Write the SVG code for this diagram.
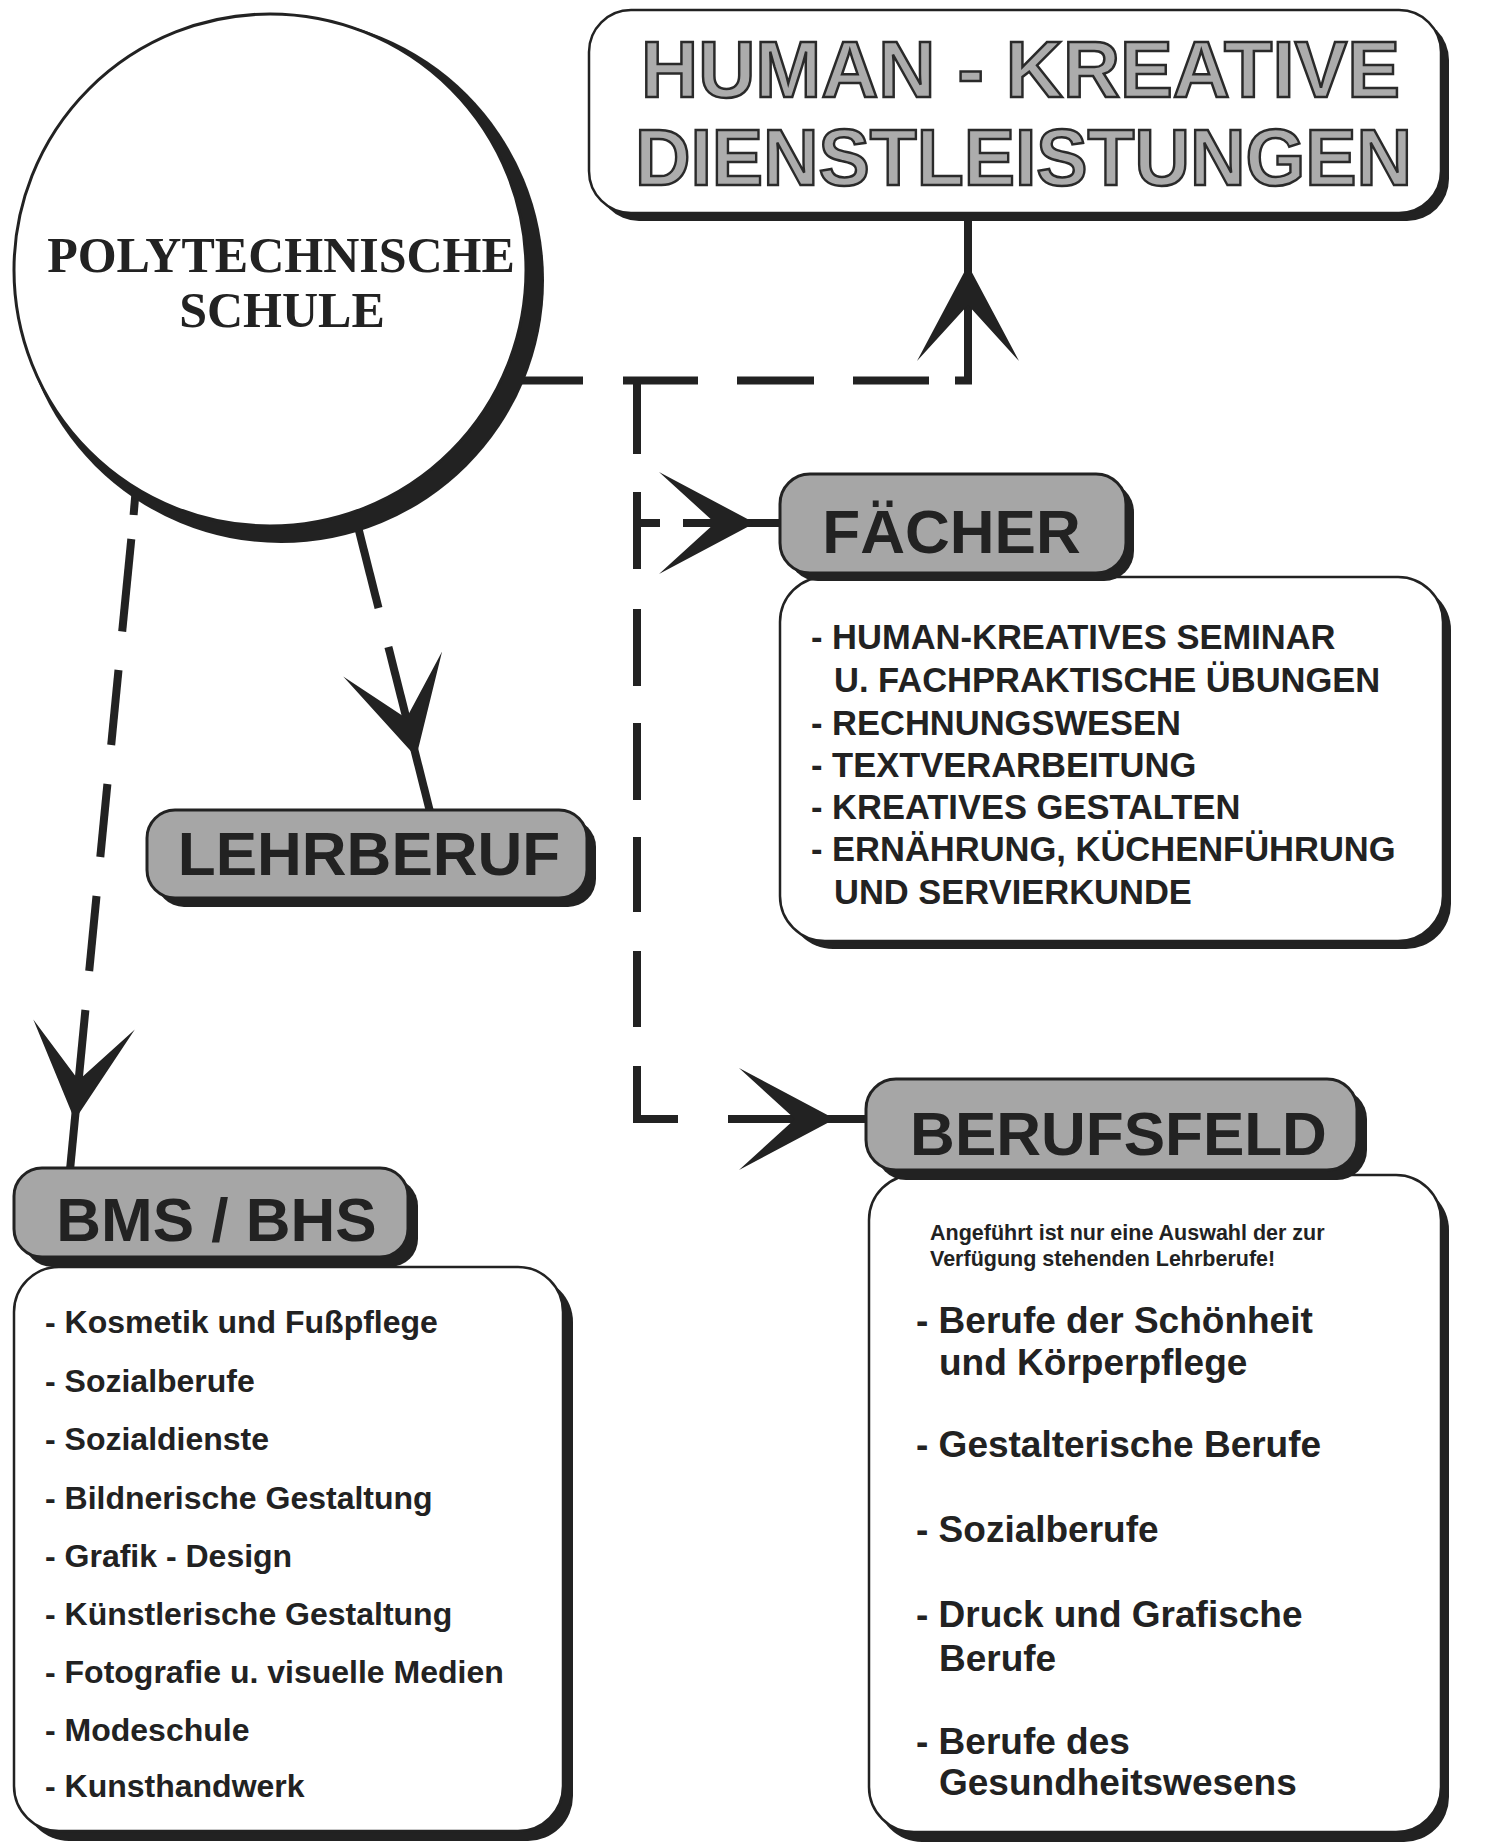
<svg xmlns="http://www.w3.org/2000/svg" xmlns:xlink="http://www.w3.org/1999/xlink" width="1486" height="1842" viewBox="0 0 1486 1842">
<style>
.ln{stroke:#222;stroke-width:8;fill:none;stroke-linecap:butt;stroke-linejoin:miter}
.ah{fill:#222}
.sh{fill:#222}
.gbox{fill:#a6a6a6;stroke:#222;stroke-width:3}
.wbox{fill:#fff;stroke:#222;stroke-width:2.5}
.lbl{font-family:"Liberation Sans",Arial,sans-serif;font-weight:bold;font-size:62px;fill:#222;text-anchor:middle}
.title{font-family:"Liberation Sans",Arial,sans-serif;font-weight:bold;font-size:80px;fill:#acacac;stroke:#2a2a2a;stroke-width:2.5}
.item{font-family:"Liberation Sans",Arial,sans-serif;font-weight:bold;fill:#222}
.f1{font-size:34.5px}
.f2{font-size:37px}
.f3{font-size:32px}
.f4{font-size:21.5px}
.serif{font-family:"Liberation Serif","Times New Roman",serif;font-weight:bold;font-size:50px;fill:#222;text-anchor:middle}
</style>
<defs>
<path id="ah" d="M0,0 L-96,-51 L-40,0 L-96,51 Z"/>
</defs>
<rect width="1486" height="1842" fill="#fff"/>

<g id="connectors">
  <!-- circle to title -->
  <line class="ln" x1="520" y1="380.5" x2="583" y2="380.5"/>
  <line class="ln" x1="623" y1="380.5" x2="698" y2="380.5"/>
  <line class="ln" x1="737" y1="380.5" x2="814" y2="380.5"/>
  <line class="ln" x1="853" y1="380.5" x2="929" y2="380.5"/>
  <polyline class="ln" points="955,380.5 968,380.5 968,213"/>
  <use href="#ah" class="ah" transform="translate(968,265) rotate(-90)"/>
  <!-- vertical dashed to FÄCHER / BERUFSFELD -->
  <line class="ln" x1="637" y1="380" x2="637" y2="454"/>
  <line class="ln" x1="637" y1="492" x2="637" y2="569"/>
  <line class="ln" x1="637" y1="609" x2="637" y2="686"/>
  <line class="ln" x1="637" y1="723" x2="637" y2="800"/>
  <line class="ln" x1="637" y1="837" x2="637" y2="912"/>
  <line class="ln" x1="637" y1="951" x2="637" y2="1027"/>
  <polyline class="ln" points="637,1066 637,1119 678,1119"/>
  <line class="ln" x1="637" y1="523" x2="660" y2="523"/>
  <line class="ln" x1="683" y1="523" x2="782" y2="523"/>
  <use href="#ah" class="ah" transform="translate(755,523)"/>
  <line class="ln" x1="728" y1="1119" x2="868" y2="1119"/>
  <use href="#ah" class="ah" transform="translate(835,1119)"/>
  <!-- circle to LEHRBERUF -->
  <line class="ln" x1="355" y1="515" x2="378.5" y2="608"/>
  <line class="ln" x1="388.4" y1="647" x2="430.1" y2="812"/>
  <use href="#ah" class="ah" transform="translate(416.2,757) rotate(75.8)"/>
  <!-- circle to BMS / BHS -->
  <line class="ln" x1="137" y1="475" x2="133.6" y2="515"/>
  <line class="ln" x1="131.3" y1="539" x2="122.2" y2="631.5"/>
  <line class="ln" x1="118.5" y1="670" x2="111.2" y2="745"/>
  <line class="ln" x1="107.4" y1="784" x2="100.3" y2="857"/>
  <line class="ln" x1="96.5" y1="896" x2="89.2" y2="971"/>
  <line class="ln" x1="85.4" y1="1010" x2="70" y2="1170"/>
  <use href="#ah" class="ah" transform="translate(74.7,1120) rotate(95.6)"/>
</g>

<g id="node-polytechnische">
  <circle class="sh" cx="281" cy="280" r="263"/>
  <circle cx="270" cy="270" r="256" fill="#fff" stroke="#222" stroke-width="3"/>
  <text class="serif" x="281" y="272">POLYTECHNISCHE</text>
  <text class="serif" x="282" y="327">SCHULE</text>
</g>

<g id="node-title">
  <rect class="sh" x="597" y="18" width="852" height="203" rx="42"/>
  <rect class="wbox" x="589" y="10" width="852" height="203" rx="42"/>
  <text class="title" x="641" y="97" textLength="759" lengthAdjust="spacingAndGlyphs">HUMAN - KREATIVE</text>
  <text class="title" x="635" y="185" textLength="777" lengthAdjust="spacingAndGlyphs">DIENSTLEISTUNGEN</text>
</g>

<g id="node-lehrberuf">
  <rect class="sh" x="156" y="819" width="440" height="88" rx="28"/>
  <rect class="gbox" x="147" y="810" width="440" height="88" rx="28"/>
  <text class="lbl" x="369" y="875">LEHRBERUF</text>
</g>

<g id="node-faecher-list">
  <rect class="sh" x="788" y="585" width="663" height="364" rx="45"/>
  <rect class="wbox" x="780" y="577" width="663" height="364" rx="45"/>
  <g class="item f1">
    <text x="811" y="649">- HUMAN-KREATIVES SEMINAR</text>
    <text x="834" y="692">U. FACHPRAKTISCHE ÜBUNGEN</text>
    <text x="811" y="735">- RECHNUNGSWESEN</text>
    <text x="811" y="777">- TEXTVERARBEITUNG</text>
    <text x="811" y="819">- KREATIVES GESTALTEN</text>
    <text x="811" y="861">- ERNÄHRUNG, KÜCHENFÜHRUNG</text>
    <text x="834" y="904">UND SERVIERKUNDE</text>
  </g>
</g>

<g id="node-faecher">
  <rect class="sh" x="788" y="482" width="346" height="99" rx="30"/>
  <rect class="gbox" x="780" y="474" width="346" height="99" rx="30"/>
  <text class="lbl" x="951.5" y="553">FÄCHER</text>
</g>

<g id="node-bms-list">
  <rect class="sh" x="24" y="1277" width="549" height="564" rx="45"/>
  <rect class="wbox" x="14" y="1267" width="549" height="564" rx="45"/>
  <g class="item f3">
    <text x="45" y="1333">- Kosmetik und Fußpflege</text>
    <text x="45" y="1391.5">- Sozialberufe</text>
    <text x="45" y="1450">- Sozialdienste</text>
    <text x="45" y="1508.5">- Bildnerische Gestaltung</text>
    <text x="45" y="1566.5">- Grafik - Design</text>
    <text x="45" y="1625">- Künstlerische Gestaltung</text>
    <text x="45" y="1683">- Fotografie u. visuelle Medien</text>
    <text x="45" y="1740.5">- Modeschule</text>
    <text x="45" y="1797">- Kunsthandwerk</text>
  </g>
</g>

<g id="node-bms">
  <rect class="sh" x="24" y="1178" width="394" height="89" rx="28"/>
  <rect class="gbox" x="14" y="1168" width="394" height="89" rx="28"/>
  <text class="lbl" x="216.5" y="1241">BMS / BHS</text>
</g>

<g id="node-berufsfeld-list">
  <rect class="sh" x="877" y="1185" width="572" height="657" rx="45"/>
  <rect class="wbox" x="869" y="1175" width="572" height="657" rx="45"/>
  <g class="item f4">
    <text x="930" y="1240">Angeführt ist nur eine Auswahl der zur</text>
    <text x="930" y="1266">Verfügung stehenden Lehrberufe!</text>
  </g>
  <g class="item f2">
    <text x="916" y="1333">- Berufe der Schönheit</text>
    <text x="939" y="1375">und Körperpflege</text>
    <text x="916" y="1457">- Gestalterische Berufe</text>
    <text x="916" y="1542">- Sozialberufe</text>
    <text x="916" y="1627">- Druck und Grafische</text>
    <text x="939" y="1671">Berufe</text>
    <text x="916" y="1754">- Berufe des</text>
    <text x="939" y="1795">Gesundheitswesens</text>
  </g>
</g>

<g id="node-berufsfeld">
  <rect class="sh" x="876" y="1089" width="491" height="91" rx="30"/>
  <rect class="gbox" x="866" y="1079" width="491" height="91" rx="30"/>
  <text class="lbl" x="1118.5" y="1155">BERUFSFELD</text>
</g>
</svg>
